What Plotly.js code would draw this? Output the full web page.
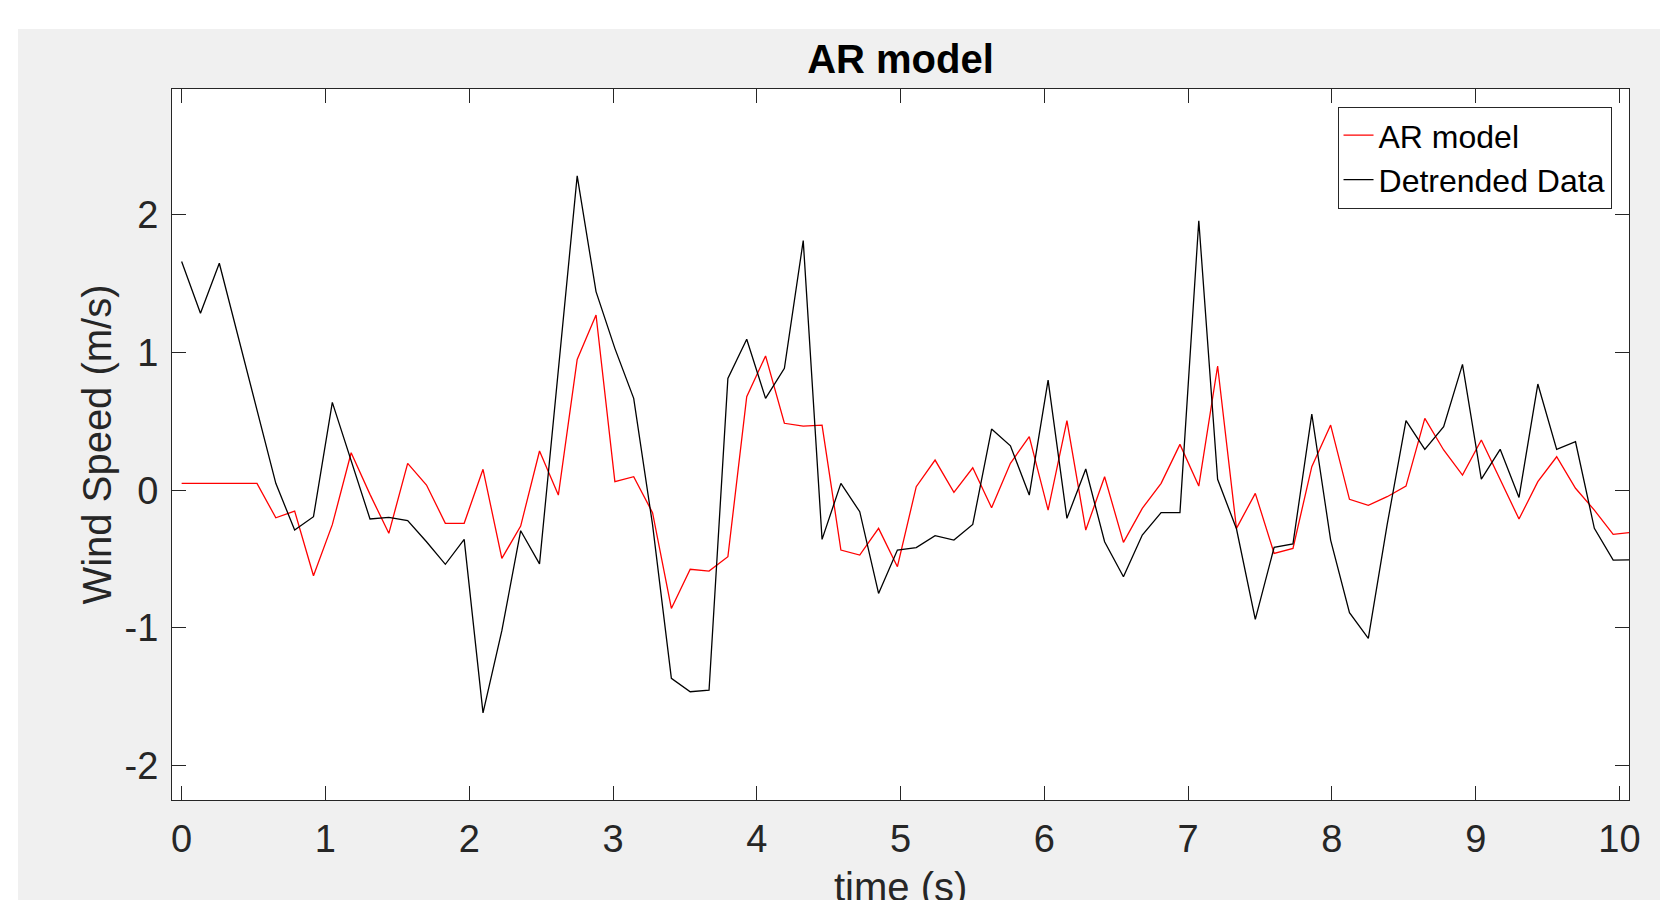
<!DOCTYPE html>
<html>
<head>
<meta charset="utf-8">
<script src="https://cdn.plot.ly/plotly-3.0.1.min.js"></script>
<style>
  html, body { margin: 0; padding: 0; background: #ffffff; width: 1660px; height: 900px; overflow: hidden; }
  #chart { position: absolute; left: 18px; top: 29px; width: 1642px; height: 871px; }
</style>
</head>
<body>
<div id="chart"></div>
<script>
const time = [0, 0.131, 0.262, 0.393, 0.524, 0.655, 0.786, 0.917, 1.048, 1.179,
  1.31, 1.441, 1.572, 1.703, 1.834, 1.965, 2.096, 2.227, 2.358, 2.489,
  2.62, 2.751, 2.882, 3.013, 3.144, 3.275, 3.406, 3.537, 3.668, 3.799,
  3.93, 4.061, 4.192, 4.323, 4.454, 4.585, 4.716, 4.847, 4.978, 5.109,
  5.24, 5.371, 5.502, 5.633, 5.764, 5.895, 6.026, 6.157, 6.288, 6.419,
  6.55, 6.681, 6.812, 6.943, 7.074, 7.205, 7.336, 7.467, 7.598, 7.729,
  7.86, 7.991, 8.122, 8.253, 8.384, 8.515, 8.646, 8.777, 8.908, 9.039,
  9.17, 9.301, 9.432, 9.563, 9.694, 9.825, 9.956, 10.087];

const arModel = [0.05, 0.05, 0.05, 0.05, 0.05, -0.2, -0.151, -0.621, -0.25, 0.272,
  -0.03, -0.313, 0.195, 0.038, -0.24, -0.24, 0.152, -0.495, -0.26, 0.285,
  -0.035, 0.95, 1.272, 0.062, 0.098, -0.163, -0.858, -0.574, -0.587, -0.483,
  0.679, 0.975, 0.486, 0.466, 0.473, -0.434, -0.471, -0.277, -0.555, 0.026,
  0.219, -0.015, 0.163, -0.127, 0.195, 0.389, -0.144, 0.505, -0.289, 0.098,
  -0.379, -0.132, 0.05, 0.333, 0.03, 0.902, -0.277, -0.023, -0.459, -0.422,
  0.171, 0.473, -0.066, -0.11, -0.047, 0.03, 0.522, 0.292, 0.11, 0.365,
  0.079, -0.209, 0.062, 0.243, 0.014, -0.144, -0.32, -0.305];

const detrended = [1.66, 1.285, 1.648, 1.12, 0.59, 0.05, -0.289, -0.192, 0.638, 0.21,
  -0.209, -0.197, -0.221, -0.374, -0.538, -0.357, -1.616, -1.02, -0.294, -0.535,
  0.88, 2.282, 1.442, 1.03, 0.667, -0.25, -1.366, -1.463, -1.451, 0.812,
  1.096, 0.667, 0.885, 1.812, -0.357, 0.05, -0.156, -0.749, -0.434, -0.417,
  -0.33, -0.362, -0.248, 0.444, 0.322, -0.035, 0.80, -0.204, 0.154, -0.374,
  -0.628, -0.325, -0.163, -0.163, 1.957, 0.079, -0.28, -0.938, -0.415, -0.39,
  0.553, -0.362, -0.889, -1.076, -0.25, 0.505, 0.297, 0.461, 0.914, 0.081,
  0.297, -0.052, 0.771, 0.297, 0.352, -0.277, -0.507, -0.505];

const xTicks = [0, 1, 2, 3, 4, 5, 6, 7, 8, 9, 10];
const yTicks = [-2, -1, 0, 1, 2];
const seriesNames = ['AR model', 'Detrended Data'];

const FONT = 'Liberation Sans, Arial, Helvetica, sans-serif';
const AX = '#262626';

const traces = [
  { x: time, y: arModel, type: 'scatter', mode: 'lines', name: seriesNames[0],
    line: { color: '#ff0000', width: 1.3 } },
  { x: time, y: detrended, type: 'scatter', mode: 'lines', name: seriesNames[1],
    line: { color: '#000000', width: 1.3 } }
];

const axisCommon = {
  showgrid: false, zeroline: false, showline: true, mirror: 'ticks',
  linecolor: AX, linewidth: 1, ticks: 'inside', ticklen: 14, tickwidth: 1,
  tickcolor: AX, tickfont: { family: FONT, size: 38, color: AX }
};

const layout = {
  width: 1642, height: 871,
  paper_bgcolor: '#f0f0f0', plot_bgcolor: '#ffffff',
  margin: { l: 154, r: 31, t: 60, b: 100 },
  showlegend: true,
  title: { text: 'AR model', font: { family: FONT, size: 40, color: '#000000', weight: 'bold' },
           x: 0.5, xref: 'paper', xanchor: 'center', y: 0.965, yref: 'container', yanchor: 'middle' },
  xaxis: Object.assign({}, axisCommon, {
    range: [-0.067, 10.066], tickvals: xTicks, ticktext: xTicks.map(String),
    ticklabelstandoff: 5
  }),
  yaxis: Object.assign({}, axisCommon, {
    range: [-2.249, 2.913], tickvals: yTicks, ticktext: yTicks.map(String),
    ticklabelstandoff: 5,
    title: { text: 'Wind Speed (m/s)', font: { family: FONT, size: 40, color: AX }, standoff: 0 }
  }),
  annotations: [{
    text: 'time (s)', xref: 'paper', yref: 'paper', x: 0.5, y: -0.1224,
    xanchor: 'center', yanchor: 'middle', showarrow: false,
    font: { family: FONT, size: 40, color: AX }
  }],
  legend: {
    x: 0.988, y: 0.975, xanchor: 'right', yanchor: 'top',
    bgcolor: '#ffffff', bordercolor: AX, borderwidth: 1,
    font: { family: FONT, size: 32, color: '#000000' },
    tracegroupgap: 0
  }
};

Plotly.newPlot('chart', traces, layout, { displayModeBar: false, staticPlot: true });
</script>
</body>
</html>
